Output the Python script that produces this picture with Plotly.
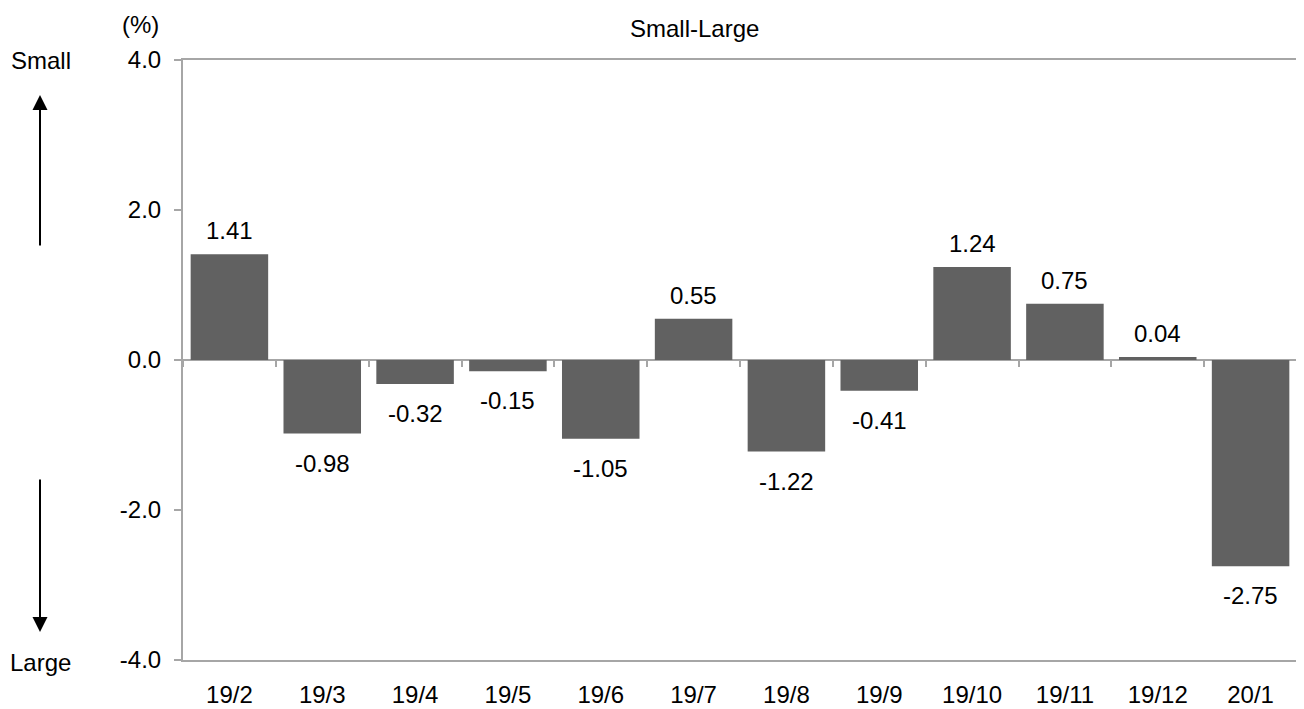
import plotly.graph_objects as go

categories = ["19/2", "19/3", "19/4", "19/5", "19/6", "19/7", "19/8", "19/9", "19/10", "19/11", "19/12", "20/1"]
values = [1.41, -0.98, -0.32, -0.15, -1.05, 0.55, -1.22, -0.41, 1.24, 0.75, 0.04, -2.75]
y_tick_values = [-4, -2, 0, 2, 4]
y_tick_labels = ["-4.0", "-2.0", "0.0", "2.0", "4.0"]
title_text = "Small-Large"
unit_text = "(%)"
top_label = "Small"
bottom_label = "Large"

FONT = "Liberation Sans, Arial, sans-serif"
FS = 24
BAR = "#616161"
AX = "#a6a6a6"

OFF = 8  # default page body margin
W, H = 1304 - OFF, 709 - OFF
L, R, T, B = 183 - OFF, 7, 60 - OFF, 49
pw, ph = W - L - R, H - T - B

def px(x):
    return (x - OFF - L) / pw

def py(y):
    return (H - B - (y - OFF)) / ph

fig = go.Figure()
fig.add_trace(go.Bar(x=categories, y=values, marker=dict(color=BAR, line=dict(width=0)),
                     hoverinfo="x+y", showlegend=False))
fig.add_trace(go.Scatter(x=categories, y=values, xaxis="x2", mode="markers",
                         marker=dict(opacity=0), hoverinfo="skip", showlegend=False))

ann = []
for c, v in zip(categories, values):
    if v >= 0:
        ann.append(dict(x=c, y=v, xref="x", yref="y", text=f"{v:.2f}", showarrow=False,
                        yanchor="bottom", yshift=8, font=dict(size=FS, color="black", family=FONT)))
    else:
        ann.append(dict(x=c, y=v, xref="x", yref="y", text=f"{v:.2f}", showarrow=False,
                        yanchor="top", yshift=-14, font=dict(size=FS, color="black", family=FONT)))

ann += [
    dict(x=px(694), y=py(28), xref="paper", yref="paper", text=title_text, showarrow=False,
         xanchor="center", yanchor="middle", font=dict(size=FS, color="black", family=FONT)),
    dict(x=px(140), y=py(25), xref="paper", yref="paper", text=unit_text, showarrow=False,
         xanchor="center", yanchor="middle", font=dict(size=FS, color="black", family=FONT)),
    dict(x=px(41), y=py(60), xref="paper", yref="paper", text=top_label, showarrow=False,
         xanchor="center", yanchor="middle", font=dict(size=FS, color="black", family=FONT)),
    dict(x=px(40), y=py(663), xref="paper", yref="paper", text=bottom_label, showarrow=False,
         xanchor="center", yanchor="middle", font=dict(size=FS, color="black", family=FONT)),
    dict(x=px(40), y=py(95), xref="paper", yref="paper", text="", showarrow=True,
         ax=0, ay=152, arrowhead=2, arrowsize=1.5, arrowwidth=2, arrowcolor="black"),
    dict(x=px(40), y=py(632), xref="paper", yref="paper", text="", showarrow=True,
         ax=0, ay=-154, arrowhead=2, arrowsize=1.5, arrowwidth=2, arrowcolor="black"),
]

fig.update_layout(
    width=W, height=H,
    margin=dict(l=L, r=R, t=T, b=B, pad=0, autoexpand=False),
    paper_bgcolor="white", plot_bgcolor="white",
    bargap=0.165,
    font=dict(family=FONT, size=FS, color="black"),
    annotations=ann,
    xaxis=dict(type="category", categoryorder="array", categoryarray=categories,
               range=[-0.5, len(categories) - 0.5], automargin=False,
               showline=True, linecolor=AX, linewidth=2, mirror=True,
               ticks="", showgrid=False, zeroline=False, ticklabelstandoff=12,
               tickfont=dict(size=FS, color="black", family=FONT)),
    xaxis2=dict(type="category", categoryorder="array", categoryarray=categories,
                range=[-0.5, len(categories) - 0.5], automargin=False,
                overlaying="x", anchor="free", position=0.5, side="bottom",
                showline=False, showticklabels=False, showgrid=False, zeroline=False,
                ticks="outside", tickson="boundaries", ticklen=6, tickwidth=2, tickcolor=AX),
    yaxis=dict(range=[-4, 4], tickmode="array", tickvals=y_tick_values, ticktext=y_tick_labels,
               automargin=False,
               showline=True, linecolor=AX, linewidth=2, mirror=True,
               ticks="outside", ticklen=7, tickwidth=2, tickcolor=AX,
               showgrid=False, zeroline=True, zerolinecolor=AX, zerolinewidth=2,
               ticklabelstandoff=8,
               tickfont=dict(size=FS, color="black", family=FONT)),
)

fig.write_html("out.html")
